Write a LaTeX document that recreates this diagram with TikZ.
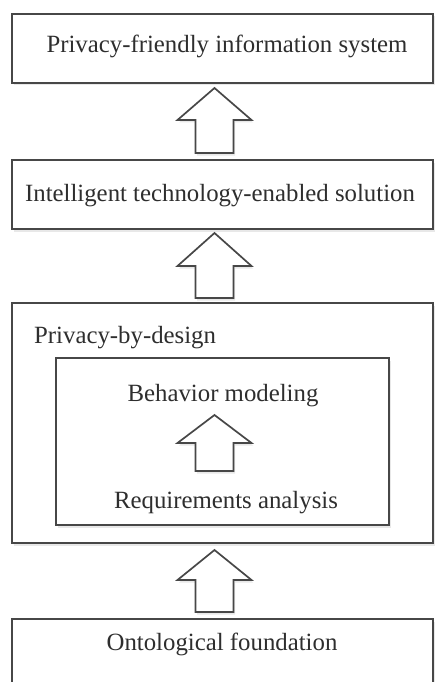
\documentclass[tikz,border=0pt]{standalone}
\usepackage{fontspec}
\setmainfont{Liberation Serif}
\usetikzlibrary{shadows}
\definecolor{lineg}{HTML}{474747}
\definecolor{textg}{HTML}{2E2E2E}
\tikzset{
  boxline/.style={draw=lineg, line width=1.7pt, fill=white,
    drop shadow={opacity=0.18, shadow xshift=1.5pt, shadow yshift=-2.5pt}},
  blockarrow/.style={draw=lineg, line width=1.7pt, fill=white, line join=miter,
    drop shadow={opacity=0.18, shadow xshift=1.5pt, shadow yshift=-2.5pt}},
  lbl/.style={text=textg, font=\fontsize{24.8}{29}\selectfont, inner sep=0pt, anchor=base}
}
\newcommand\upblock[4]{% name, tip y, wing y, bottom y
  \coordinate (#1) at (214.5,#2);
  \draw[blockarrow] (#1) -- ++(37,#3-#2) -- ++(-18,0) -- ++(0,#4-#3) -- ++(-38,0) -- ++(0,#3-#4) -- ++(-18,0) -- cycle;
}
\begin{document}
\begin{tikzpicture}[x=1pt,y=-1pt]
\useasboundingbox (0,0) rectangle (435,682);
\clip (0,0) rectangle (435,682);
% boxes
\draw[boxline] (12,14) rectangle (433,83);
\draw[boxline] (12,160) rectangle (433,229);
\draw[boxline] (12,303) rectangle (433,543);
\draw[boxline] (56,358) rectangle (389,525);
\draw[boxline] (12,619) rectangle (433,700);
% texts
\node[lbl] (t1) at (227,53) {Privacy-friendly information system};
\node[lbl] (t2) at (220,201) {Intelligent technology-enabled solution};
\node[lbl, anchor=base west] (t3) at (34,343) {Privacy-by-design};
\node[lbl] (t4) at (223,401) {Behavior modeling};
\node[lbl] (t5) at (226,508) {Requirements analysis};
\node[lbl] (t6) at (222,650) {Ontological foundation};
% arrows
\upblock{a1}{88}{120}{153}
\upblock{a2}{233}{266}{298}
\upblock{a3}{415}{443}{471}
\upblock{a4}{550}{580}{612}
\end{tikzpicture}
\end{document}
